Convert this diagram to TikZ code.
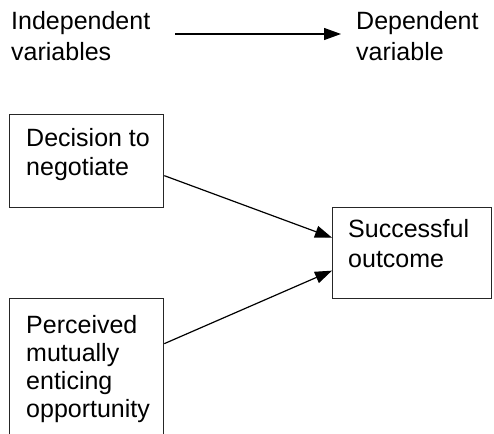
\documentclass[tikz,border=0pt]{standalone}
\usepackage{fontspec}
\setmainfont{Liberation Sans}
\usetikzlibrary{arrows.meta}
\begin{document}
\begin{tikzpicture}[x=1pt,y=-1pt,
  lbl/.style={inner sep=0pt, anchor=base west, align=left, font=\fontsize{25}{31}\selectfont},
  boxtext/.style={inner sep=0pt, anchor=base west, align=left, font=\fontsize{25}{29}\selectfont},
  box/.style={draw=black!85, line width=1.3pt, inner sep=0pt, anchor=north west},
  conn/.style={line width=1.2pt, -{Triangle[length=17pt,width=12pt]}}]
\useasboundingbox (0,0) rectangle (494,433);
\clip (0,0) rectangle (494,433);
\fill[white] (0,0) rectangle (494,433);
% header (base anchor = baseline of last line)
\node[lbl] (indep) at (11,61) {Independent\\variables};
\node[lbl] (dep) at (356,61) {Dependent\\variable};
\coordinate (harrowstart) at (175,34);
\coordinate (harrowend) at (341,34);
\draw[conn] (harrowstart) -- (harrowend);
% boxes
\node[box, minimum width=154pt, minimum height=93pt] (b1) at (9,114) {};
\node[boxtext] (t1) at (26,175) {Decision to\\negotiate};
\node[box, minimum width=159pt, minimum height=91pt] (b2) at (332,207) {};
\node[boxtext, font=\fontsize{25}{30}\selectfont] (t2) at (348,267) {Successful\\outcome};
\node[box, minimum width=154pt, minimum height=150pt] (b3) at (9,298) {};
\node[boxtext, font=\fontsize{25}{28}\selectfont] (t3) at (26,417) {Perceived\\mutually\\enticing\\opportunity};
% connectors
\draw[conn] ([yshift=-14.5pt]b1.east) -- ([yshift=15.5pt]b2.west);
\draw[conn] ([yshift=30pt]b3.east) -- ([yshift=-17.5pt]b2.west);
\end{tikzpicture}
\end{document}
